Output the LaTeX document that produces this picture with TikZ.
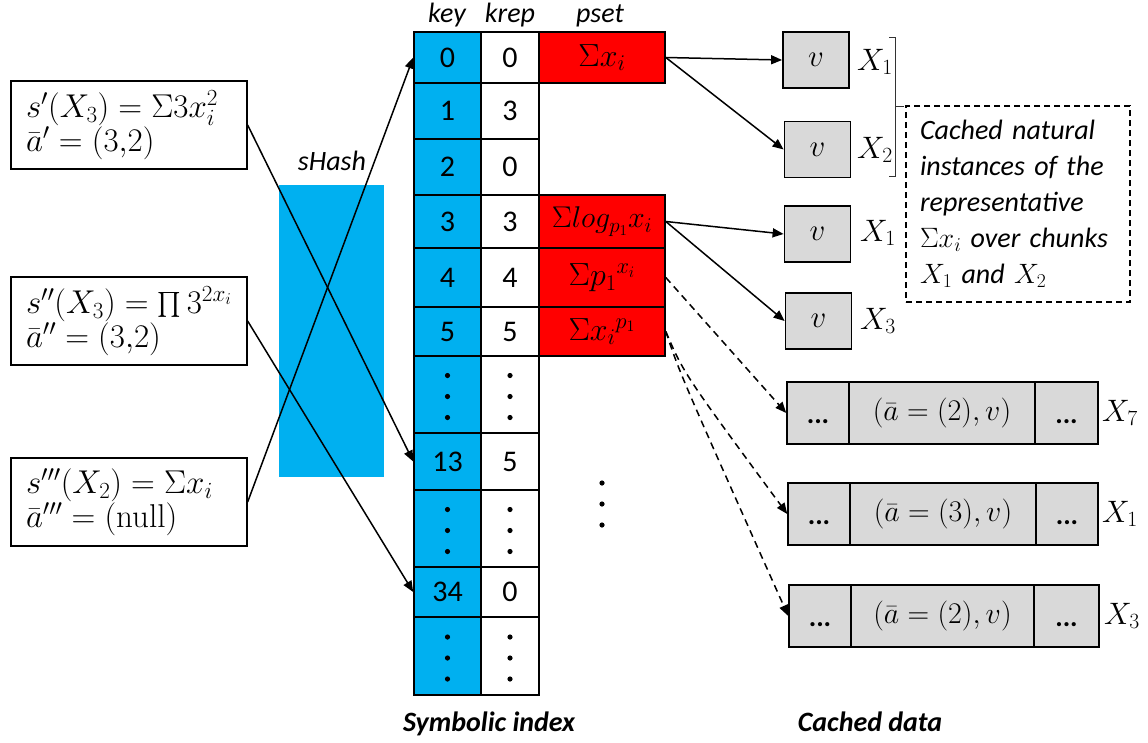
\RequirePackage{fix-cm}
\documentclass[tikz,border=0pt]{standalone}
\usepackage{exscale}
\usepackage[no-math]{fontspec}
\setmainfont{Carlito}
\usetikzlibrary{arrows.meta,calc}
\definecolor{cblue}{RGB}{0,176,240}
\definecolor{cred}{RGB}{255,0,0}
\definecolor{cgray}{RGB}{217,217,217}
\begin{document}
\begin{tikzpicture}[x=1pt,y=-1pt,
  tcell/.style={draw, line width=1.6pt, inner sep=0pt, font=\fontsize{30}{36}\selectfont},
  keyc/.style={tcell, fill=cblue, minimum width=67pt},
  krepc/.style={tcell, fill=white, minimum width=58pt},
  psetc/.style={tcell, fill=cred, minimum width=126pt},
  lbox/.style={draw, line width=1.3pt, inner xsep=14pt, inner ysep=0pt, align=left, minimum width=236pt, minimum height=88pt, text width=206pt, font=\fontsize{33}{33}\selectfont},
  vbox/.style={draw, fill=cgray, line width=1.8pt, minimum width=66pt, minimum height=56pt, inner sep=0pt, font=\fontsize{31}{36}\selectfont},
  ccell/.style={draw, fill=cgray, line width=1.5pt, minimum height=62pt, inner sep=0pt, font=\fontsize{30}{36}\selectfont},
  xlab/.style={font=\fontsize{31}{36}\selectfont, inner sep=0pt},
  hdr/.style={font=\fontsize{28}{34}\selectfont\itshape, anchor=base},
  ttl/.style={font=\fontsize{28}{34}\selectfont\bfseries\itshape, anchor=base},
  ddd/.style={font=\fontsize{28}{34}\selectfont\bfseries, anchor=base},
  conn/.style={line width=1.5pt, -{Triangle[length=11pt,width=9pt]}},
  dconn/.style={conn, dash pattern=on 7pt off 5pt}
]
\useasboundingbox (0,0) rectangle (1148,742);

% sHash block
\fill[cblue] (279,185) rectangle (384,477);
\node[hdr] (shash) at (332,170) {sHash};

% headers
\node[hdr] (hkey) at (447,22) {key};
\node[hdr] (hkrep) at (510,22) {krep};
\node[hdr] (hpset) at (600,22) {pset};

% table key column
\node[keyc, minimum height=51pt] (k0) at (447.5,57.5) {0};
\node[keyc, minimum height=56pt] (k1) at (447.5,111) {1};
\node[keyc, minimum height=56pt] (k2) at (447.5,167) {2};
\node[keyc, minimum height=53pt] (k3) at (447.5,221.5) {3};
\node[keyc, minimum height=59pt] (k4) at (447.5,277.5) {4};
\node[keyc, minimum height=49pt] (k5) at (447.5,331.5) {5};
\node[keyc, minimum height=77pt] (kd1) at (447.5,394.5) {};
\node[keyc, minimum height=57pt] (k13) at (447.5,461.5) {13};
\node[keyc, minimum height=77pt] (kd2) at (447.5,528.5) {};
\node[keyc, minimum height=50pt] (k34) at (447.5,592) {34};
\node[keyc, minimum height=78pt] (kd3) at (447.5,656) {};
% krep column
\node[krepc, minimum height=51pt] (r0) at (510,57.5) {0};
\node[krepc, minimum height=56pt] (r1) at (510,111) {3};
\node[krepc, minimum height=56pt] (r2) at (510,167) {0};
\node[krepc, minimum height=53pt] (r3) at (510,221.5) {3};
\node[krepc, minimum height=59pt] (r4) at (510,277.5) {4};
\node[krepc, minimum height=49pt] (r5) at (510,331.5) {5};
\node[krepc, minimum height=77pt] (rd1) at (510,394.5) {};
\node[krepc, minimum height=57pt] (r13) at (510,461.5) {5};
\node[krepc, minimum height=77pt] (rd2) at (510,528.5) {};
\node[krepc, minimum height=50pt] (r34) at (510,592) {0};
\node[krepc, minimum height=78pt] (rd3) at (510,656) {};
% pset column
\node[psetc, minimum height=51pt, font=\fontsize{32}{36}\selectfont] (p0) at (602,57.5) {$\Sigma x_i$};
\node[psetc, minimum height=53pt] (p3) at (602,221.5) {$\Sigma log_{p_1}x_i$};
\node[psetc, minimum height=59pt, font=\fontsize{32}{36}\selectfont] (p4) at (602,277.5) {$\Sigma {p_1}^{x_i}$};
\node[psetc, minimum height=49pt, font=\fontsize{32}{36}\selectfont] (p5) at (602,331.5) {$\Sigma {x_i}^{p_1}$};

% vertical dots in table
\foreach \c in {kd1,rd1,kd2,rd2,kd3,rd3}{
  \foreach \o in {-19,2,23}{
    \fill ($(\c.center)+(0,\o)$) circle (2.6pt);
  }
}
\foreach \yy in {483,504,525}{ \fill (602,\yy) circle (2.6pt); }

% left boxes
\node[lbox] (s1) at (129,125) {$s'(X_3)=\Sigma 3x_i^2$\\ $\bar a'=(3{,}2)$};
\node[lbox] (s2) at (129,321) {$s''(X_3)=\prod 3^{2x_i}$\\ $\bar a''=(3{,}2)$};
\node[lbox] (s3) at (129,502) {$s'''(X_2)=\Sigma x_i$\\ $\bar a'''=(\mathrm{null})$};

\draw[conn] (s1.east) -- (k13.west);
\draw[conn] (s2.east) -- (k34.west);
\draw[conn] (s3.east) -- (k0.west);

% v boxes
\node[vbox] (v1) at (816,60) {$v$};
\node[vbox] (v2) at (817.5,149.5) {$v$};
\node[vbox] (v3) at (817.5,234) {$v$};
\node[vbox] (v4) at (818.5,321) {$v$};
\node[xlab] (x1) at (875,62) {$X_1$};
\node[xlab] (x2) at (875,150) {$X_2$};
\node[xlab] (x3) at (878,233) {$X_1$};
\node[xlab] (x4) at (878,321) {$X_3$};

\draw[conn] (p0.east) -- (v1.west);
\draw[conn] (p0.east) -- (v2.west);
\draw[conn] (p3.east) -- (v3.west);
\draw[conn] (p3.east) -- (v4.west);

% bracket
\draw[line width=0.9pt, draw=black!80] (889,37) -- (895,37) -- (895,176) -- (889,176);
\draw[line width=0.9pt, draw=black!80] (895,106) -- (904,106);

% dashed note
\node[draw, line width=1.5pt, dash pattern=on 6pt off 4pt, minimum width=224pt, minimum height=196pt,
  inner xsep=14pt, text width=196pt, align=left, font=\fontsize{28}{36}\selectfont\itshape] (note) at (1018,204)
  {Cached natural instances of the representative $\Sigma x_i$ over chunks $X_1$ and $X_2$};

% cached wide boxes
\node[ccell, minimum width=62pt] (Al) at (818,413) {};
\node[ccell, minimum width=186pt] (Am) at (942,413) {$(\bar a=(2),v)$};
\node[ccell, minimum width=63pt] (Ar) at (1066.5,413) {};
\node[ccell, minimum width=62pt] (Bl) at (819,514) {};
\node[ccell, minimum width=186pt] (Bm) at (943,514) {$(\bar a=(3),v)$};
\node[ccell, minimum width=62pt] (Br) at (1067,514) {};
\node[ccell, minimum width=62pt] (Cl) at (820,616) {};
\node[ccell, minimum width=183pt] (Cm) at (942.5,616) {$(\bar a=(2),v)$};
\node[ccell, minimum width=65pt] (Cr) at (1066.5,616) {};
\foreach \b in {Al,Ar,Bl,Br,Cl,Cr}{
  \node[ddd] at ($(\b.center)+(0,10)$) {...};
}
\node[xlab] (x7) at (1120,413) {$X_7$};
\node[xlab] (x8) at (1120,514) {$X_1$};
\node[xlab] (x9) at (1122,616) {$X_3$};

\draw[dconn] (p4.east) -- (Al.west);
\draw[dconn] (p5.east) .. controls ($(p5.east)+(18,42)$) .. (Bl.west);
\draw[dconn] (p5.east) .. controls ($(p5.east)+(14,42)$) .. (Cl.west);

% titles
\node[ttl] (t1) at (489,731) {Symbolic index};
\node[ttl] (t2) at (870,731) {Cached data};
\end{tikzpicture}
\end{document}
